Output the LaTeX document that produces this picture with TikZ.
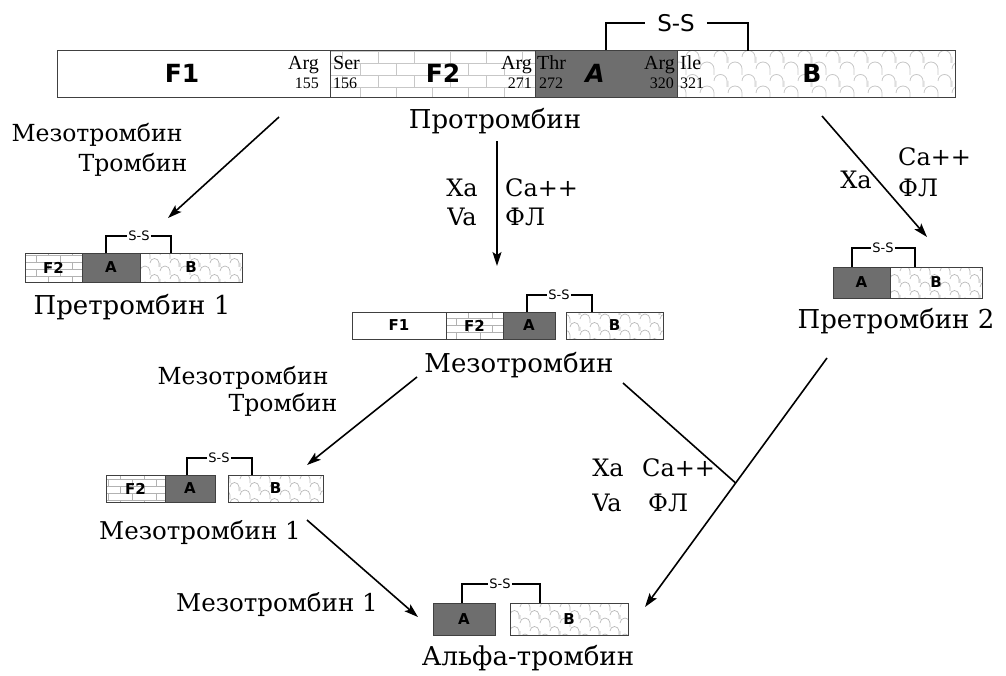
\documentclass[tikz,border=0pt]{standalone}
\usepackage{fontspec}
\setmainfont{DejaVu Serif}
\newfontfamily\lserif{Liberation Serif}
\newfontfamily\dsans{DejaVu Sans}
\usetikzlibrary{patterns,arrows.meta,calc}

\pgfdeclarepatternformonly{bricksx}{\pgfqpoint{-0.5pt}{-0.5pt}}{\pgfqpoint{24.5pt}{14.5pt}}{\pgfqpoint{24pt}{14pt}}{%
 \pgfsetlinewidth{0.7pt}%
 \pgfpathmoveto{\pgfqpoint{0pt}{0pt}}\pgfpathlineto{\pgfqpoint{24pt}{0pt}}%
 \pgfpathmoveto{\pgfqpoint{0pt}{7pt}}\pgfpathlineto{\pgfqpoint{24pt}{7pt}}%
 \pgfpathmoveto{\pgfqpoint{0pt}{0pt}}\pgfpathlineto{\pgfqpoint{0pt}{7pt}}%
 \pgfpathmoveto{\pgfqpoint{12pt}{7pt}}\pgfpathlineto{\pgfqpoint{12pt}{14pt}}%
 \pgfusepath{stroke}}

\pgfdeclarepatternformonly{bigbricksx}{\pgfqpoint{-0.5pt}{-0.5pt}}{\pgfqpoint{36.5pt}{24.5pt}}{\pgfqpoint{36pt}{24pt}}{%
 \pgfsetlinewidth{0.8pt}%
 \pgfpathmoveto{\pgfqpoint{0pt}{0pt}}\pgfpathlineto{\pgfqpoint{36pt}{0pt}}%
 \pgfpathmoveto{\pgfqpoint{0pt}{12pt}}\pgfpathlineto{\pgfqpoint{36pt}{12pt}}%
 \pgfpathmoveto{\pgfqpoint{0pt}{0pt}}\pgfpathlineto{\pgfqpoint{0pt}{12pt}}%
 \pgfpathmoveto{\pgfqpoint{18pt}{12pt}}\pgfpathlineto{\pgfqpoint{18pt}{24pt}}%
 \pgfusepath{stroke}}

\pgfdeclarepatternformonly{scallopx}{\pgfqpoint{-1pt}{-1pt}}{\pgfqpoint{21pt}{17pt}}{\pgfqpoint{20pt}{16pt}}{%
 \pgfsetlinewidth{0.7pt}%
 \pgfpathmoveto{\pgfqpoint{0pt}{4pt}}%
 \pgfpatharc{180}{0}{5pt}%
 \pgfpathmoveto{\pgfqpoint{10pt}{4pt}}\pgfpathlineto{\pgfqpoint{10pt}{0pt}}%
 \pgfpathmoveto{\pgfqpoint{10pt}{12pt}}%
 \pgfpatharc{180}{0}{4.5pt}%
 \pgfpathmoveto{\pgfqpoint{19pt}{12pt}}\pgfpathlineto{\pgfqpoint{19pt}{8pt}}%
 \pgfpathmoveto{\pgfqpoint{0pt}{12pt}}\pgfpathlineto{\pgfqpoint{0pt}{8pt}}%
 \pgfusepath{stroke}}

\pgfdeclarepatternformonly{bigscallopx}{\pgfqpoint{-1pt}{-1pt}}{\pgfqpoint{29pt}{25pt}}{\pgfqpoint{28pt}{24pt}}{%
 \pgfsetlinewidth{0.8pt}%
 \pgfpathmoveto{\pgfqpoint{0pt}{6pt}}%
 \pgfpatharc{180}{0}{7pt}%
 \pgfpathmoveto{\pgfqpoint{14pt}{6pt}}\pgfpathlineto{\pgfqpoint{14pt}{0pt}}%
 \pgfpathmoveto{\pgfqpoint{14pt}{18pt}}%
 \pgfpatharc{180}{0}{6.5pt}%
 \pgfpathmoveto{\pgfqpoint{27pt}{18pt}}\pgfpathlineto{\pgfqpoint{27pt}{12pt}}%
 \pgfpathmoveto{\pgfqpoint{0pt}{18pt}}\pgfpathlineto{\pgfqpoint{0pt}{12pt}}%
 \pgfusepath{stroke}}

\newcommand\segm[6]{\node[segbase,#6,minimum width={#4-#2},minimum height={#5-#3}] (#1) at ({(#2+#4)/2},{(#3+#5)/2}) {};}

\tikzset{
 segbase/.style={draw=black!75, line width=0.8pt, inner sep=0pt, outer sep=0pt},
 plain/.style={fill=white},
 brick/.style={pattern=bricksx, pattern color=black!30},
 bbrick/.style={pattern=bigbricksx, pattern color=black!22},
 scal/.style={pattern=scallopx, pattern color=black!28},
 bscal/.style={pattern=bigscallopx, pattern color=black!22},
 dark/.style={fill=black!57},
 biglab/.style={font=\fontsize{26}{30}\selectfont, inner sep=0pt},
 enzlab/.style={font=\fontsize{23.5}{27}\selectfont, inner sep=0pt},
 cof/.style={font=\fontsize{24}{28}\selectfont, inner sep=0pt},
 aa/.style={font=\lserif\fontsize{20}{21}\selectfont, inner sep=0pt},
 num/.style={font=\lserif\fontsize{16}{17}\selectfont, inner sep=0pt},
 dom/.style={font=\dsans\bfseries\fontsize{25}{28}\selectfont, inner sep=0pt},
 sdom/.style={font=\dsans\bfseries\fontsize{15}{16}\selectfont, inner sep=0pt},
 bigss/.style={font=\dsans\fontsize{23}{26}\selectfont, inner xsep=12pt, inner ysep=0pt},
 smss/.style={font=\dsans\fontsize{13}{14}\selectfont, inner xsep=1pt, inner ysep=0pt},
 brk/.style={line width=1.5pt},
 sbrk/.style={line width=1.2pt},
 arr/.style={line width=1.6pt, -{Stealth[length=14pt,width=9pt,inset=3pt]}},
 ln/.style={line width=1.6pt}
}

\begin{document}
\begin{tikzpicture}[x=1pt,y=-1pt]
\useasboundingbox (0,0) rectangle (1006,675);

% ---------- Prothrombin bar ----------
\segm{tF1}{57}{50}{330}{97}{plain}
\segm{tF2}{330}{50}{535}{97}{bbrick}
\segm{tA}{535}{50}{677}{97}{dark}
\segm{tB}{677}{50}{955}{97}{bscal}
\node[dom] (tF1l) at (182,73) {F1};
\node[dom] (tF2l) at (443,73) {F2};
\node[dom, font=\dsans\bfseries\itshape\fontsize{25}{28}\selectfont] (tAl) at (595,73) {A};
\node[dom] (tBl) at (812,73) {B};
\node[aa, anchor=base east] (r1) at (319,69) {Arg};
\node[num, anchor=base east] (n1) at (319,88) {155};
\node[aa, anchor=base west] (r2) at (333,69) {Ser};
\node[num, anchor=base west] (n2) at (333,88) {156};
\node[aa, anchor=base east] (r3) at (532,69) {Arg};
\node[num, anchor=base east] (n3) at (532,88) {271};
\node[aa, anchor=base west] (r4) at (537,69) {Thr};
\node[num, anchor=base west] (n4) at (539,88) {272};
\node[aa, anchor=base east] (r5) at (675,69) {Arg};
\node[num, anchor=base east] (n5) at (674,88) {320};
\node[aa, anchor=base west] (r6) at (680,69) {Ile};
\node[num, anchor=base west] (n6) at (680,88) {321};
\node[bigss] (tss) at (676,23) {S-S};
\draw[brk] (606,50) |- (tss.west);
\draw[brk] (tss.east) -| (748,51);
\node[biglab] (prot) at (495,121) {Протромбин};

% ---------- Prethrombin 1 ----------
\segm{p1F2}{25}{253}{82}{282}{brick}
\segm{p1A}{82}{253}{140}{282}{dark}
\segm{p1B}{140}{253}{242}{282}{scal}
\node[sdom] at (p1F2) {F2};
\node[sdom] at (p1A) {A};
\node[sdom] at (p1B) {B};
\node[smss] (p1ss) at (139,236) {S-S};
\draw[sbrk] (106,253) |- (p1ss.west);
\draw[sbrk] (p1ss.east) -| (171,253);
\node[biglab] (p1lab) at (132,307) {Претромбин 1};

% ---------- Prethrombin 2 ----------
\segm{p2A}{833}{267}{890}{298}{dark}
\segm{p2B}{890}{267}{982}{298}{scal}
\node[sdom] at (p2A) {A};
\node[sdom] at (p2B) {B};
\node[smss] (p2ss) at (883,248) {S-S};
\draw[sbrk] (852,267) |- (p2ss.west);
\draw[sbrk] (p2ss.east) -| (915,267);
\node[biglab] (p2lab) at (896,321) {Претромбин 2};

% ---------- Meizothrombin ----------
\segm{mF1}{352}{312}{446}{339}{plain}
\segm{mF2}{446}{312}{503}{339}{brick}
\segm{mA}{503}{312}{555}{339}{dark}
\segm{mB}{566}{312}{663}{339}{scal}
\node[sdom] at (mF1) {F1};
\node[sdom] at (mF2) {F2};
\node[sdom] at (mA) {A};
\node[sdom] at (mB) {B};
\node[smss] (mss) at (559,295) {S-S};
\draw[sbrk] (527,312) |- (mss.west);
\draw[sbrk] (mss.east) -| (592,312);
\node[biglab] (mlab) at (519,365) {Мезотромбин};

% ---------- Meizothrombin 1 ----------
\segm{m1F2}{106}{475}{165}{502}{brick}
\segm{m1A}{165}{475}{215}{502}{dark}
\segm{m1B}{228}{475}{323}{502}{scal}
\node[sdom] at (m1F2) {F2};
\node[sdom] at (m1A) {A};
\node[sdom] at (m1B) {B};
\node[smss] (m1ss) at (219,458) {S-S};
\draw[sbrk] (187,475) |- (m1ss.west);
\draw[sbrk] (m1ss.east) -| (252,475);
\node[biglab, font=\fontsize{24.5}{28}\selectfont] (m1lab) at (200,533) {Мезотромбин 1};

% ---------- Alpha-thrombin ----------
\segm{aA}{433}{603}{495}{635}{dark}
\segm{aB}{510}{603}{628}{635}{scal}
\node[sdom] at (aA) {A};
\node[sdom] at (aB) {B};
\node[smss] (ass) at (500,584) {S-S};
\draw[sbrk] (462,603) |- (ass.west);
\draw[sbrk] (ass.east) -| (540,603);
\node[biglab] (alab) at (528,658) {Альфа-тромбин};

% ---------- arrows and labels ----------
\coordinate (a1s) at (279,117);
\coordinate (a1e) at (168,218);
\draw[arr] (a1s) -- (a1e);
\node[enzlab] (e1a) at (97,135) {Мезотромбин};
\node[enzlab] (e1b) at (133,165) {Тромбин};

\coordinate (a2s) at (497,141);
\coordinate (a2e) at (497,266);
\draw[arr] (a2s) -- (a2e);
\node[cof] (x1) at (462,188) {Xa};
\node[cof] (v1) at (462,217) {Va};
\node[cof, anchor=west] (c1) at (505,188) {Ca++};
\node[cof, anchor=west] (f1) at (505,217) {ФЛ};

\coordinate (a3s) at (822,116);
\coordinate (a3e) at (927,237);
\draw[arr] (a3s) -- (a3e);
\node[cof] (x2) at (856,180) {Xa};
\node[cof, anchor=west] (c2) at (898,157) {Ca++};
\node[cof, anchor=west] (f2) at (898,188) {ФЛ};

\coordinate (a4s) at (417,377);
\coordinate (a4e) at (307,465);
\draw[arr] (a4s) -- (a4e);
\node[enzlab] (e2a) at (243,378) {Мезотромбин};
\node[enzlab] (e2b) at (283,405) {Тромбин};

\coordinate (a5s) at (307,520);
\coordinate (a5e) at (418,617);
\draw[arr] (a5s) -- (a5e);
\node[biglab, font=\fontsize{24.5}{28}\selectfont] (e3) at (277,605) {Мезотромбин 1};

\coordinate (a6s) at (827,358);
\coordinate (a6e) at (645,607);
\draw[arr] (a6s) -- (a6e);
\coordinate (jn) at ($(a6s)!0.502!(a6e)$);
\coordinate (a7s) at (623,383);
\draw[ln] (a7s) -- (jn);
\node[cof] (x3) at (608,468) {Xa};
\node[cof, anchor=west] (c3) at (642,468) {Ca++};
\node[cof] (v3) at (607,503) {Va};
\node[cof, anchor=west] (f3) at (648,503) {ФЛ};
\end{tikzpicture}
\end{document}
